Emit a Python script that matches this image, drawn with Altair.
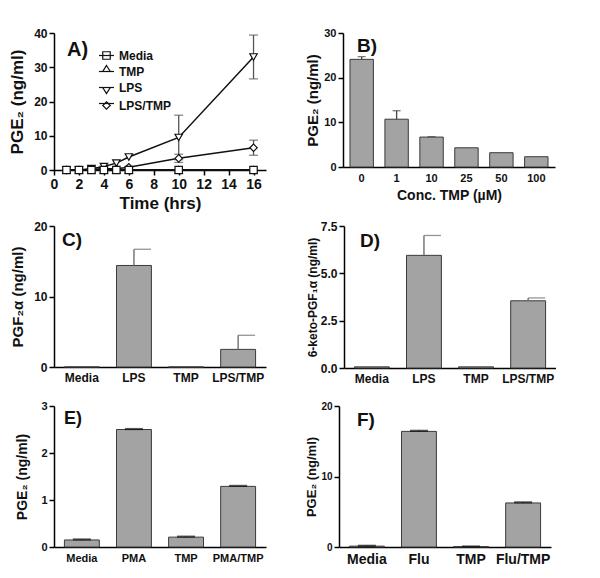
import altair as alt
import pandas as pd

FONT = "Liberation Sans"
BAR_FILL = "#a3a3a3"
BAR_STROKE = "#3a3a3a"

# ---------------- Panel A : time course ----------------
a_times = [1, 2, 3, 4, 5, 6, 10, 16]
a_series = ["Media", "TMP", "LPS", "LPS/TMP"]
a_shapes = ["square", "triangle-up", "triangle-down", "diamond"]
a_media = [0, 0, 0, 0, 0, 0, 0, 0]
a_tmp = [0, 0, 0, 0.05, 0.05, 0.05, 0.1, 0.1]
a_lps = [0, 0, 0.4, 1.0, 2.0, 3.8, 9.5, 33.0]
a_lpstmp = [0, 0, 0.2, 0.4, 0.4, 0.8, 3.4, 6.5]
a_err_series = ["LPS", "LPS", "LPS/TMP", "LPS/TMP"]
a_err_time = [10, 16, 10, 16]
a_err_mean = [9.5, 33.0, 3.4, 6.5]
a_err_sd = [6.5, 6.4, 1.2, 2.2]
a_xticks = [0, 2, 4, 6, 8, 10, 12, 14, 16]
a_yticks = [0, 10, 20, 30, 40]

# ---------------- Panel B : dose response ----------------
b_conc = ["0", "1", "10", "25", "50", "100"]
b_vals = [24.1, 10.7, 6.7, 4.3, 3.2, 2.3]
b_err = [0.6, 1.9, 0.1, 0, 0, 0]

# ---------------- Panel C ----------------
c_cats = ["Media", "LPS", "TMP", "LPS/TMP"]
c_vals = [0, 14.4, 0, 2.5]
c_err = [0, 2.3, 0, 2.0]

# ---------------- Panel D ----------------
d_cats = ["Media", "LPS", "TMP", "LPS/TMP"]
d_vals = [0.06, 5.95, 0.06, 3.55]
d_err = [0, 1.05, 0, 0.15]

# ---------------- Panel E ----------------
e_cats = ["Media", "PMA", "TMP", "PMA/TMP"]
e_vals = [0.15, 2.5, 0.21, 1.29]
e_err = [0.01, 0.01, 0.01, 0.01]

# ---------------- Panel F ----------------
f_cats = ["Media", "Flu", "TMP", "Flu/TMP"]
f_vals = [0.12, 16.4, 0.05, 6.25]
f_err = [0.05, 0.08, 0.02, 0.08]

W = 212


def yaxis(title, values, fmt, lsize, tsize, extent, tpad):
    return alt.Axis(
        title=title, values=values, format=fmt, grid=False,
        domainColor="black", domainWidth=1.5, tickColor="black", tickWidth=1.5,
        tickSize=5, labelFont=FONT, labelFontWeight="bold", labelFontSize=lsize,
        labelColor="#111", labelPadding=2, titleFont=FONT, titleFontWeight="bold",
        titleFontSize=tsize, titleColor="#111", titlePadding=tpad,
        minExtent=extent, maxExtent=extent,
    )


def panel_label(text, rx, ry, size):
    return alt.Chart(pd.DataFrame({"lab": [text]})).mark_text(
        align="left", baseline="alphabetic", font=FONT, fontWeight="bold",
        fontSize=size, color="#111"
    ).encode(x=alt.value(rx), y=alt.value(ry), text="lab:N")


# ---- Panel A chart
rows = []
for s, vals in zip(a_series, [a_media, a_tmp, a_lps, a_lpstmp]):
    for t, v in zip(a_times, vals):
        rows.append({"time": t, "value": v, "series": s})
dfA = pd.DataFrame(rows)
# a separate key (distinct domain) so the line-legend is not merged with the shape legend
a_line_keys = [s + " " for s in a_series]
dfA["key"] = dfA["series"] + " "

dfErr = pd.DataFrame({"time": a_err_time, "series": a_err_series,
                      "mean": a_err_mean, "sd": a_err_sd})
dfErr["value"] = dfErr["mean"] - dfErr["sd"]
dfErr["hi"] = dfErr["mean"] + dfErr["sd"]
dfCaps = pd.concat([
    dfErr[["time", "value"]],
    dfErr[["time", "hi"]].rename(columns={"hi": "value"}),
])

xA = alt.X("time:Q", scale=alt.Scale(domain=[0, 17], nice=False),
           axis=alt.Axis(title="Time (hrs)", values=a_xticks, grid=False,
                         domainColor="black", domainWidth=1.5, tickColor="black",
                         tickWidth=1.5, tickSize=5, labelFont=FONT,
                         labelFontWeight="bold", labelFontSize=14, labelColor="#111",
                         labelPadding=2, titleFont=FONT, titleFontWeight="bold",
                         titleFontSize=17, titleColor="#111", titlePadding=4,
                         labelFlush=False, labelOverlap=False, labelBound=False))
yA = alt.Y("value:Q", scale=alt.Scale(domain=[0, 40], nice=False),
           axis=yaxis("PGE₂ (ng/ml)", a_yticks, "d", 12, 17, 24, 4))

LEG_X, LEG_Y = 44, 14
common_legend = dict(title=None, orient="none", legendY=LEG_Y, legendX=LEG_X,
                     labelFont=FONT, labelFontWeight="bold", labelFontSize=12,
                     labelColor="#111", symbolSize=225, rowPadding=1, labelOffset=4)

# connecting lines; their colour legend provides the line part of each legend key
linesA = alt.Chart(dfA).mark_line(color="#111", strokeWidth=1.5).encode(
    x=xA, y=yA, order="time:Q",
    color=alt.Color("key:N", scale=alt.Scale(domain=a_line_keys, range=["#111"] * 4),
                    legend=alt.Legend(symbolType="stroke", symbolStrokeWidth=1.2,
                                      symbolStrokeColor="#111", labelOpacity=0,
                                      **common_legend)),
)
errA = alt.Chart(dfErr).mark_rule(color="#555", strokeWidth=1.3).encode(
    x=xA, y=yA, y2="hi:Q")
capsA = alt.Chart(dfCaps).mark_tick(color="#555", orient="horizontal", size=9,
                                    thickness=1.3).encode(x=xA, y=yA)

# markers: one layer per series (drawn so that Media squares end on top)
point_layers = []
for s in ["TMP", "LPS/TMP", "LPS", "Media"]:
    shp = a_shapes[a_series.index(s)]
    point_layers.append(
        alt.Chart(dfA).transform_filter(alt.datum.series == s).mark_point(
            shape=shp, filled=True, fill="white", stroke="#111", strokeWidth=1.2,
            size=55, opacity=1
        ).encode(x=xA, y=yA)
    )

legend_paths = [
    "M -0.5 -0.5 L 0.5 -0.5 L 0.5 0.5 L -0.5 0.5 Z",
    "M 0 -0.8 L 0.5 0 L -0.5 0 Z",
    "M -0.5 0 L 0.5 0 L 0 0.8 Z",
    "M 0 -0.5 L 0.5 0 L 0 0.5 L -0.5 0 Z",
]
legendA = alt.Chart(dfA).transform_filter("datum.time < 0").mark_point(
    filled=False, color="#111", strokeWidth=1.2, size=225, opacity=1
).encode(
    x=xA, y=yA,
    shape=alt.Shape("series:N", scale=alt.Scale(domain=a_series, range=legend_paths),
                    legend=alt.Legend(symbolStrokeWidth=1.2, symbolStrokeColor="#111",
                                      symbolOpacity=1, **common_legend)),
)
chartA = alt.layer(linesA, errA, capsA, *point_layers, legendA,
                   panel_label("A)", 13, 23, 20)).properties(width=W, height=137)


def bar_panel(cats, vals, errs, ytitle, ydomain, yticks, yfmt, ylsize, ytsize,
              yext, ytpad, xlsize, xtitle, label, lx, ly, lsize, height,
              cap_size, cap_offset, cap_thick, err_color, xtsize=14):
    df = pd.DataFrame({"cat": cats, "val": vals, "err": errs})
    df["hi"] = df["val"] + df["err"]
    xaxis = alt.Axis(title=xtitle, labelAngle=0, ticks=False, grid=False,
                     domainColor="black", domainWidth=1.5, labelFont=FONT,
                     labelFontWeight="bold", labelFontSize=xlsize, labelColor="#111",
                     labelPadding=5, titleFont=FONT, titleFontWeight="bold",
                     titleFontSize=xtsize, titleColor="#111", titlePadding=5)
    x = alt.X("cat:N", sort=cats, axis=xaxis,
              scale=alt.Scale(paddingInner=0.33, paddingOuter=0.2))
    y = alt.Y("val:Q", scale=alt.Scale(domain=ydomain, nice=False),
              axis=yaxis(ytitle, yticks, yfmt, ylsize, ytsize, yext, ytpad))
    base = alt.Chart(df)
    bars = base.mark_bar(fill=BAR_FILL, stroke=BAR_STROKE, strokeWidth=1).encode(x=x, y=y)
    err = base.transform_filter("datum.err > 0").mark_rule(
        color=err_color, strokeWidth=1.3).encode(x=alt.X("cat:N", sort=cats), y="val:Q", y2="hi:Q")
    caps = base.transform_filter("datum.err > 0").mark_tick(
        color=err_color, size=cap_size, thickness=cap_thick, xOffset=cap_offset
    ).encode(x=alt.X("cat:N", sort=cats), y="hi:Q")
    return alt.layer(bars, err, caps, panel_label(label, lx, ly, lsize)).properties(
        width=W, height=height)


chartB = bar_panel(b_conc, b_vals, b_err, "PGE₂ (ng/ml)", [0, 30], [0, 10, 20, 30], "d",
                   11, 15, 20, 3, 11, "Conc. TMP (µM)", "B)", 14, 19, 19, 134,
                   8, 0, 1.3, "#444", xtsize=14)
chartC = bar_panel(c_cats, c_vals, c_err, "PGF₂α (ng/ml)", [0, 20], [0, 5, 10, 15, 20], "d",
                   12, 15, 22, 7, 12, None, "C)", 8, 20, 19, 141,
                   17, 8.5, 1.3, "#666")
chartD = bar_panel(d_cats, d_vals, d_err, "6-keto-PGF₁α (ng/ml)", [0, 7.5],
                   [0, 2.5, 5, 7.5], ".1f", 12, 12, 22, 3, 12, None, "D)", 16, 21, 19, 142,
                   17, 8.5, 1.3, "#666")
chartE = bar_panel(e_cats, e_vals, e_err, "PGE₂ (ng/ml)", [0, 3], [0, 1, 2, 3], "d",
                   11, 14, 20, 5, 11, None, "E)", 10, 18, 18, 141,
                   18, 0, 2.2, "#111")
chartF = bar_panel(f_cats, f_vals, f_err, "PGE₂ (ng/ml)", [0, 20], [0, 5, 10, 15, 20], "d",
                   10, 13, 18, 3, 14, None, "F)", 18, 20, 19, 141,
                   18, 0, 2.2, "#111")

row1 = alt.hconcat(chartA, chartB, spacing=39)
row2 = alt.hconcat(chartC, chartD, spacing=39)
row3 = alt.hconcat(chartE, chartF, spacing=39)

chart = alt.vconcat(alt.vconcat(row1, row2, spacing=9), row3, spacing=16).properties(
    padding={"left": 0, "top": 19, "right": 0, "bottom": 0},
    background="white",
).configure_view(stroke=None)

chart.save("out.html", embed_options={"renderer": "svg", "actions": False})
